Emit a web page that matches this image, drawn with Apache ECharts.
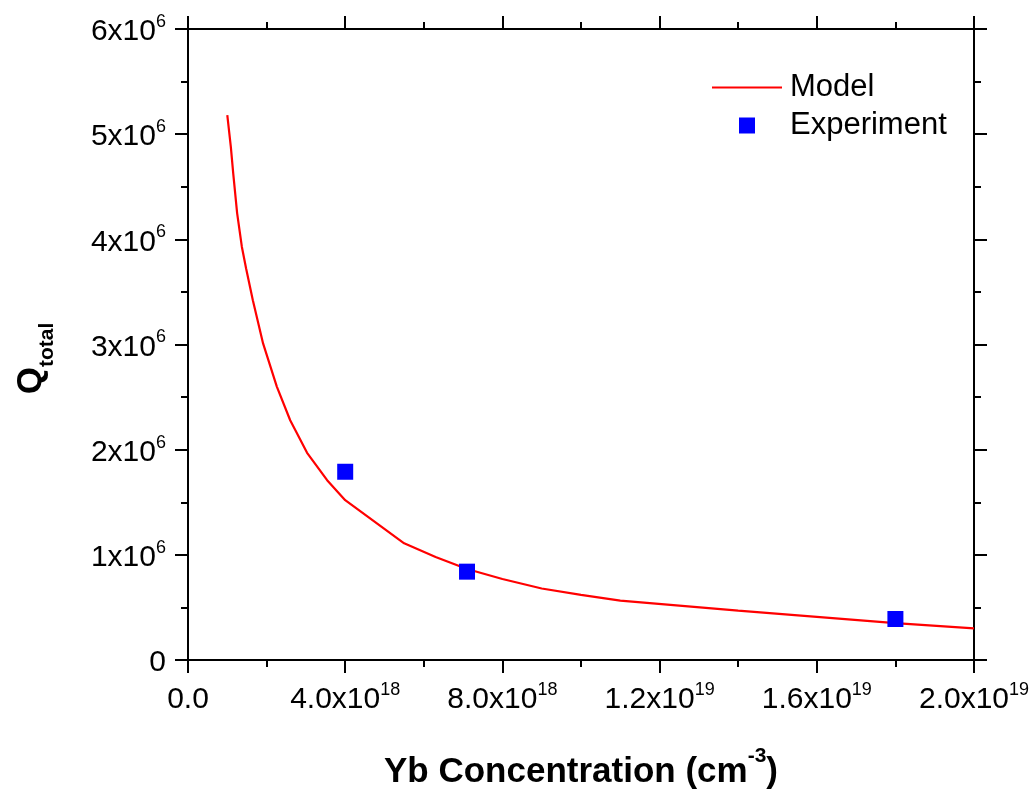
<!DOCTYPE html>
<html>
<head>
<meta charset="utf-8">
<script src="https://cdn.jsdelivr.net/npm/echarts@6/dist/echarts.min.js"></script>
<style>
html,body{margin:0;padding:0;background:#fff;}
#chart{width:1035px;height:793px;}
</style>
</head>
<body>
<div id="chart"></div>
<script>
// Model curve (x in units of 1e18 cm^-3, y in units of 1e6)
const modelX = [1.0, 1.09, 1.15, 1.25, 1.37, 1.48, 1.65, 1.91, 2.26, 2.6, 3.03, 3.54, 4.0, 5.5, 6.3, 7.1, 8.0, 9.0, 10.0, 11.0, 14.0, 18.0, 20.0];
const modelY = [5.18, 4.88, 4.63, 4.25, 3.93, 3.72, 3.42, 3.01, 2.60, 2.28, 1.97, 1.71, 1.52, 1.11, 0.98, 0.865, 0.77, 0.68, 0.62, 0.565, 0.47, 0.35, 0.30];
// Experiment points
const expX = [4.0, 7.1, 18.0];
const expY = [1.79, 0.84, 0.39];
const X_SCALE = 1e18, Y_SCALE = 1e6;
const xTicks = { min: 0, max: 2e19, interval: 4e18 };
const yTicks = { min: 0, max: 6e6, interval: 1e6 };

const FONT = "'Liberation Sans', Arial, sans-serif";
const modelData = modelX.map((x, i) => [x * X_SCALE, modelY[i] * Y_SCALE]);
const expData = expX.map((x, i) => [x * X_SCALE, expY[i] * Y_SCALE]);

const rich = {
  n: { fontSize: 30, fontFamily: FONT, color: '#000', lineHeight: 36, verticalAlign: 'bottom' },
  sup: { fontSize: 18, fontFamily: FONT, color: '#000', lineHeight: 36, verticalAlign: 'top', padding: [2, 0, 0, 0] }
};

function xFmt(v) {
  if (v === 0) return '{n|0.0}';
  const e = Math.floor(Math.log10(v) + 1e-9);
  const m = v / Math.pow(10, e);
  return '{n|' + m.toFixed(1) + 'x10}{sup|' + e + '}';
}
function yFmt(v) {
  if (v === 0) return '{n|0}';
  return '{n|' + Math.round(v / 1e6) + 'x10}{sup|6}';
}

const lineStyle = { color: '#000', width: 2 };
function axisBase(extra) {
  return Object.assign({
    type: 'value',
    axisLine: { show: true, onZero: false, lineStyle },
    axisTick: { show: true, length: 13, lineStyle },
    minorTick: { show: true, splitNumber: 2, length: 7, lineStyle },
    splitLine: { show: false },
    minorSplitLine: { show: false }
  }, extra);
}

const chart = echarts.init(document.getElementById('chart'));
chart.setOption({
  animation: false,
  backgroundColor: '#fff',
  grid: { left: 188, right: 61, top: 29, bottom: 133, containLabel: false, outerBoundsMode: 'none' },
  legend: [
    {
      data: [{ name: 'Model', icon: 'rect' }], left: 712, top: 72, padding: 0, itemWidth: 70, itemHeight: 2, itemGap: 0,
      textStyle: { fontSize: 31, fontFamily: FONT, color: '#000', padding: [0, 0, 0, 3] }
    },
    {
      data: [{ name: 'Experiment', icon: 'rect' }], left: 739, top: 110, padding: 0, itemWidth: 16, itemHeight: 16,
      textStyle: { fontSize: 31, fontFamily: FONT, color: '#000', padding: [0, 0, 0, 30] }
    }
  ],
  xAxis: [
    axisBase(Object.assign({
      position: 'bottom',
      axisLabel: { formatter: xFmt, rich, margin: 19, showMaxLabel: true, showMinLabel: true },
      name: '{t|Yb Concentration (cm}{s|-3}{t|)}',
      nameLocation: 'middle', nameGap: 86,
      nameTextStyle: {
        rich: {
          t: { fontSize: 35, fontWeight: 'bold', fontFamily: FONT, color: '#000', lineHeight: 44, verticalAlign: 'bottom' },
          s: { fontSize: 21, fontWeight: 'bold', fontFamily: FONT, color: '#000', lineHeight: 44, verticalAlign: 'top' }
        }
      }
    }, xTicks)),
    axisBase(Object.assign({ position: 'top', axisLabel: { show: false } }, xTicks))
  ],
  yAxis: [
    axisBase(Object.assign({
      position: 'left',
      axisLabel: { formatter: yFmt, rich, margin: 22, showMaxLabel: true },
      name: '{q|Q}{s|total}',
      nameLocation: 'middle', nameGap: 130, nameRotate: 90,
      nameTextStyle: {
        padding: [0, 28, 0, 0],
        rich: {
          q: { fontSize: 35, fontWeight: 'bold', fontFamily: FONT, color: '#000', lineHeight: 44, verticalAlign: 'top' },
          s: { fontSize: 21, fontWeight: 'bold', fontFamily: FONT, color: '#000', lineHeight: 44, verticalAlign: 'bottom' }
        }
      }
    }, yTicks)),
    axisBase(Object.assign({ position: 'right', axisLabel: { show: false } }, yTicks))
  ],
  series: [
    {
      name: 'Model', type: 'line', data: modelData, symbol: 'none', showSymbol: false, smooth: false,
      lineStyle: { color: '#FF0000', width: 2.2 }, itemStyle: { color: '#FF0000' }, z: 2
    },
    {
      name: 'Experiment', type: 'scatter', data: expData, symbol: 'rect', symbolSize: 16,
      itemStyle: { color: '#0000FF', opacity: 1 }, z: 3
    }
  ]
});
</script>
</body>
</html>
